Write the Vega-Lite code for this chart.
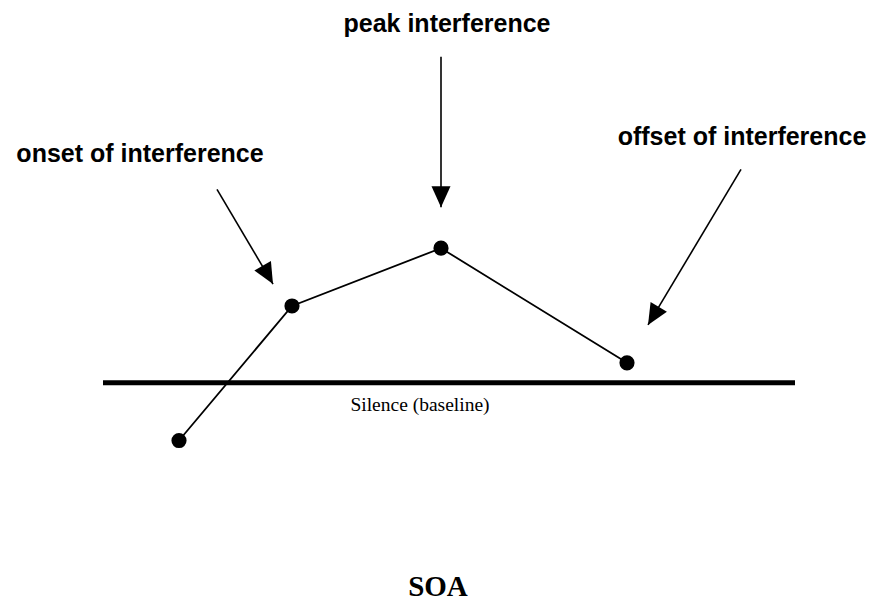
{
  "$schema": "https://vega.github.io/schema/vega-lite/v6.json",
  "width": 878,
  "height": 602,
  "autosize": {"type": "fit", "contains": "padding"},
  "padding": 0,
  "background": "white",
  "config": {"view": {"stroke": null}},
  "datasets": {
    "series": [
      {"soa": 179, "interference": -58},
      {"soa": 292, "interference": 77},
      {"soa": 441, "interference": 135},
      {"soa": 627, "interference": 20}
    ],
    "baseline": [{"x": 103, "x2": 795, "y": 0}],
    "arrows": [
      {"name": "onset", "x": 217, "y": 194, "x2": 273, "y2": 99, "angle": -29.5},
      {"name": "peak", "x": 441, "y": 327, "x2": 441, "y2": 176, "angle": 0},
      {"name": "offset", "x": 741, "y": 214, "x2": 648, "y2": 58, "angle": 30.8}
    ],
    "boldLabels": [
      {"label": "peak interference", "x": 447, "y": 352},
      {"label": "onset of interference", "x": 140, "y": 221},
      {"label": "offset of interference", "x": 742, "y": 239}
    ],
    "silence": [{"label": "Silence (baseline)", "x": 420, "y": -28}],
    "axisTitle": [{"label": "SOA", "x": 438, "y": -214}]
  },
  "layer": [
    {
      "data": {"name": "baseline"},
      "mark": {"type": "rule", "color": "black", "strokeWidth": 5},
      "encoding": {
        "x": {"field": "x", "type": "quantitative", "scale": {"domain": [0, 878], "nice": false, "zero": false}, "axis": null},
        "x2": {"field": "x2"},
        "y": {"field": "y", "type": "quantitative", "scale": {"domain": [-218, 384], "nice": false, "zero": false}, "axis": null}
      }
    },
    {
      "data": {"name": "series"},
      "mark": {"type": "line", "color": "black", "strokeWidth": 1.8},
      "encoding": {
        "x": {"field": "soa", "type": "quantitative", "scale": {"domain": [0, 878], "nice": false, "zero": false}, "axis": null},
        "y": {"field": "interference", "type": "quantitative", "scale": {"domain": [-218, 384], "nice": false, "zero": false}, "axis": null}
      }
    },
    {
      "data": {"name": "series"},
      "mark": {"type": "point", "shape": "circle", "filled": true, "color": "black", "opacity": 1, "size": 230},
      "encoding": {
        "x": {"field": "soa", "type": "quantitative", "axis": null},
        "y": {"field": "interference", "type": "quantitative", "axis": null}
      }
    },
    {
      "data": {"name": "arrows"},
      "mark": {"type": "rule", "color": "black", "strokeWidth": 1.6},
      "encoding": {
        "x": {"field": "x", "type": "quantitative", "axis": null},
        "y": {"field": "y", "type": "quantitative", "axis": null},
        "x2": {"field": "x2"},
        "y2": {"field": "y2"}
      }
    },
    {
      "data": {"name": "arrows"},
      "mark": {"type": "point", "shape": "M0,0 L-0.95,-2.1 L0.95,-2.1 Z", "filled": true, "color": "black", "opacity": 1, "size": 400, "strokeWidth": 0},
      "encoding": {
        "x": {"field": "x2", "type": "quantitative", "axis": null},
        "y": {"field": "y2", "type": "quantitative", "axis": null},
        "angle": {"field": "angle", "type": "quantitative", "scale": null}
      }
    },
    {
      "data": {"name": "boldLabels"},
      "mark": {"type": "text", "font": "Liberation Sans", "fontWeight": "bold", "fontSize": 25, "align": "center", "baseline": "alphabetic", "color": "black"},
      "encoding": {
        "x": {"field": "x", "type": "quantitative", "axis": null},
        "y": {"field": "y", "type": "quantitative", "axis": null},
        "text": {"field": "label"}
      }
    },
    {
      "data": {"name": "silence"},
      "mark": {"type": "text", "font": "Liberation Serif", "fontSize": 19.5, "align": "center", "baseline": "alphabetic", "color": "black"},
      "encoding": {
        "x": {"field": "x", "type": "quantitative", "axis": null},
        "y": {"field": "y", "type": "quantitative", "axis": null},
        "text": {"field": "label"}
      }
    },
    {
      "data": {"name": "axisTitle"},
      "mark": {"type": "text", "font": "Liberation Serif", "fontWeight": "bold", "fontSize": 29, "align": "center", "baseline": "alphabetic", "color": "black"},
      "encoding": {
        "x": {"field": "x", "type": "quantitative", "axis": null},
        "y": {"field": "y", "type": "quantitative", "axis": null},
        "text": {"field": "label"}
      }
    }
  ]
}
